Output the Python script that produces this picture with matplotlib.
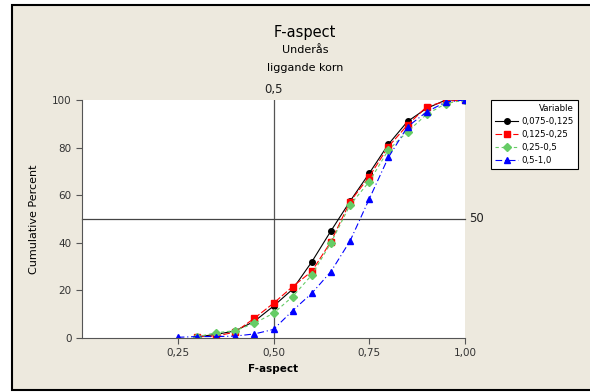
import numpy as np
import matplotlib.pyplot as plt
from matplotlib.patches import Rectangle

x_all = np.round(np.arange(0.25, 1.0001, 0.05), 2)

labels = ['0,075-0,125', '0,125-0,25', '0,25-0,5', '0,5-1,0']
# cumulative percent at each F-aspect value (first point 0.30 for the first three)
black = [0.5, 1.5, 3, 7, 13.4, 20.5, 32, 45, 57.5, 69.2, 81.4, 91, 96.5, 100, 100]
red = [0.5, 0.8, 2.5, 8.3, 14.6, 21.6, 28, 40.5, 57.3, 67.8, 80.4, 89.5, 97.2, 99.5, 100]
green = [0.5, 2.2, 3.1, 6.2, 10.4, 17.4, 26.5, 40, 55.9, 65.7, 79, 86.7, 94, 98.5, 100]
blue = [0.3, 0.6, 0.6, 0.8, 1.7, 3.6, 11.5, 18.8, 27.9, 40.8, 58.4, 75.9, 88.8, 95, 99.2, 100]

bg = '#EDE9DE'
fig = plt.figure(figsize=(5.9, 3.92), dpi=100, facecolor='white')
W, H = 590, 392
fig.patches.append(Rectangle((12 / W, 2 / H), 1.0, 385 / H, transform=fig.transFigure,
                             facecolor=bg, edgecolor='black', linewidth=1.5, zorder=-10))

ax = fig.add_axes([82 / W, 1 - 338 / H, (465 - 82) / W, (338 - 100) / H])
ax.set_facecolor('white')

ax.plot(x_all[1:], black, color='black', marker='o', markersize=4, linewidth=0.8, label=labels[0])
ax.plot(x_all[1:], red, color='red', marker='s', markersize=4, linewidth=0.8,
        linestyle=(0, (6, 2)), label=labels[1])
ax.plot(x_all[1:], green, color='#66CC66', marker='D', markersize=3.8, linewidth=0.8,
        linestyle=(0, (3, 2.5)), label=labels[2])
ax.plot(x_all, blue, color='blue', marker='^', markersize=4.5, linewidth=0.8,
        linestyle=(0, (6, 2.5, 1, 2.5)), label=labels[3])

ax.axvline(0.5, color='#555555', linewidth=0.9, zorder=0)
ax.plot([0, 1.0], [50, 50], color='#444444', linewidth=0.9, zorder=0, clip_on=False)
ax.text(0.5, 101.5, '0,5', ha='center', va='bottom', fontsize=8.5, color='#222222')
ax.text(1.012, 50, '50', ha='left', va='center', fontsize=8.5, color='#222222')

ax.set_xlim(0, 1.0)
ax.set_ylim(0, 100)
ax.set_xticks([0.25, 0.5, 0.75, 1.0])
ax.set_xticklabels(['0,25', '0,50', '0,75', '1,00'])
ax.set_yticks([0, 20, 40, 60, 80, 100])
for s in ['top', 'right']:
    ax.spines[s].set_visible(False)
for s in ['left', 'bottom']:
    ax.spines[s].set_color('#555555')
ax.tick_params(direction='out', length=4, color='#555555', labelsize=7.5,
               labelcolor='#333333', width=0.8)
ax.set_xlabel('F-aspect', fontsize=7.5, fontweight='bold', labelpad=4)
ax.set_ylabel('Cumulative Percent', fontsize=8, labelpad=9)

fig.text(305 / W, 1 - 33 / H, 'F-aspect', ha='center', va='center', fontsize=10.5)
fig.text(305 / W, 1 - 50 / H, 'Underås', ha='center', va='center', fontsize=8)
fig.text(305 / W, 1 - 68 / H, 'liggande korn', ha='center', va='center', fontsize=8)

leg = ax.legend(title='Variable', loc='upper left', bbox_to_anchor=(491 / W, 1 - 100 / H),
                bbox_transform=fig.transFigure, fontsize=6.2, title_fontsize=6.2,
                frameon=True, fancybox=False, borderpad=0.5, borderaxespad=0,
                handlelength=2.6, labelspacing=0.45, handletextpad=0.4)
leg.get_frame().set_edgecolor('black')
leg.get_frame().set_linewidth(0.8)
leg.get_frame().set_facecolor('white')
leg.get_frame().set_alpha(1)
leg._legend_box.align = 'right'

fig.savefig('out.png', dpi=100, facecolor='white')
